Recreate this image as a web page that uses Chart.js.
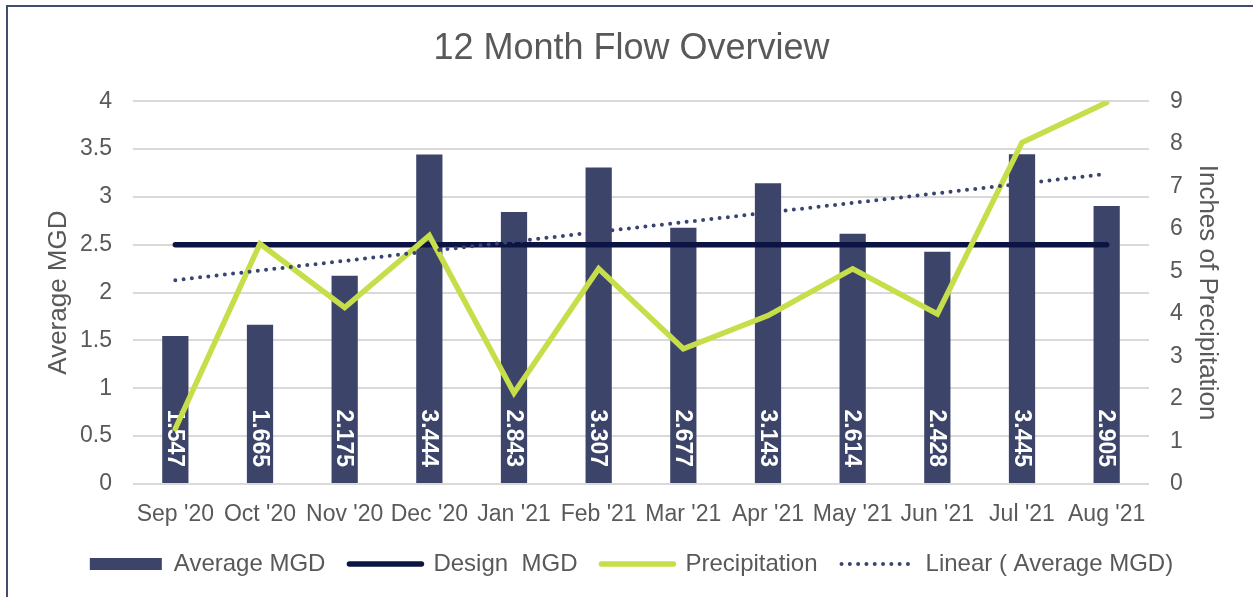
<!DOCTYPE html>
<html>
<head>
<meta charset="utf-8">
<script src="https://cdn.jsdelivr.net/npm/chart.js@4"></script>
<style>
  body { margin: 0; overflow: hidden; background: #fff; }
  #frame { position: absolute; left: 6px; top: 5px; width: 1300px; height: 700px; border: 2px solid #424d6d; }
  #flow { position: absolute; left: 0; top: 0; }
</style>
</head>
<body>
<div id="frame"></div>
<canvas id="flow" width="1253" height="597"></canvas>
<script>
Chart.defaults.font.family = '"Liberation Sans", Arial, sans-serif';
Chart.defaults.color = '#595959';

const months = ["Sep '20", "Oct '20", "Nov '20", "Dec '20", "Jan '21", "Feb '21", "Mar '21", "Apr '21", "May '21", "Jun '21", "Jul '21", "Aug '21"];
const avgMgd = [1.547, 1.665, 2.175, 3.444, 2.843, 3.307, 2.677, 3.143, 2.614, 2.428, 3.445, 2.905];
const designMgd = [2.5, 2.5, 2.5, 2.5, 2.5, 2.5, 2.5, 2.5, 2.5, 2.5, 2.5, 2.5];
const precip = [1.30, 5.65, 4.15, 5.84, 2.14, 5.06, 3.18, 3.96, 5.06, 4.00, 8.03, 8.97];
// trendline: only its two ends
const trend = [2.13, null, null, null, null, null, null, null, null, null, null, 3.24];

// values written vertically inside the bars, near the base
const barLabels = {
  id: 'barLabels',
  afterDatasetDraw(chart, args) {
    if (args.index !== 0) return;
    const ctx = chart.ctx;
    ctx.save();
    ctx.fillStyle = '#ffffff';
    ctx.font = 'bold 23px "Liberation Sans", Arial, sans-serif';
    ctx.textAlign = 'right';
    ctx.textBaseline = 'middle';
    args.meta.data.forEach((bar, i) => {
      ctx.save();
      ctx.translate(bar.x, bar.base - 16);
      ctx.rotate(Math.PI / 2);
      ctx.fillText(avgMgd[i].toFixed(3), 0, 1);
      ctx.restore();
    });
    ctx.restore();
  }
};

let ctx = document.getElementById('flow');
const flowChart = new Chart(ctx, {
  type: 'bar',
  data: {
    labels: months,
    datasets: [{
      label: 'Average MGD',
      data: avgMgd,
      backgroundColor: '#3c4569',
      yAxisID: 'y',
      order: 4,
      pointStyle: 'rect',
      categoryPercentage: 1,
      barPercentage: 0.31
    }, {
      type: 'line',
      label: 'Design  MGD',
      data: designMgd,
      borderColor: '#0b1442',
      backgroundColor: '#0b1442',
      borderWidth: 5.5,
      borderCapStyle: 'round',
      pointRadius: 0,
      pointStyle: 'line',
      yAxisID: 'y',
      order: 3
    }, {
      type: 'line',
      label: 'Precipitation',
      data: precip,
      borderColor: '#c5de4a',
      backgroundColor: '#c5de4a',
      borderWidth: 5.5,
      borderCapStyle: 'round',
      borderJoinStyle: 'miter',
      pointRadius: 0,
      pointStyle: 'line',
      yAxisID: 'y1',
      order: 2
    }, {
      type: 'line',
      label: 'Linear ( Average MGD)',
      data: trend,
      spanGaps: true,
      borderColor: '#3a4470',
      backgroundColor: '#3a4470',
      borderWidth: 4,
      borderDash: [0, 8.3],
      borderCapStyle: 'round',
      pointRadius: 0,
      pointStyle: 'line',
      yAxisID: 'y',
      order: 1
    }]
  },
  options: {
    responsive: false,
    animation: false,
    events: [],
    layout: { padding: { left: 30, right: 20, top: 5, bottom: 11 } },
    plugins: {
      title: {
        display: true,
        text: '12 Month Flow Overview',
        color: '#595959',
        font: { size: 36, weight: 'normal' },
        padding: { top: 22, bottom: 31 }
      },
      legend: {
        position: 'bottom',
        labels: {
          color: '#595959',
          font: { size: 24 },
          usePointStyle: true,
          pointStyleWidth: 72,
          boxHeight: 12,
          padding: 24,
          generateLabels(chart) {
            return chart.data.datasets.map((ds, i) => ({
              text: ds.label,
              datasetIndex: i,
              fillStyle: ds.backgroundColor,
              strokeStyle: ds.borderColor || ds.backgroundColor,
              lineWidth: ds.type === 'line' ? ds.borderWidth : 0,
              lineDash: ds.borderDash || [],
              lineCap: ds.borderCapStyle || 'butt',
              pointStyle: ds.pointStyle,
              fontColor: '#595959',
              hidden: false
            }));
          }
        }
      },
      tooltip: { enabled: false }
    },
    scales: {
      x: {
        grid: { display: false },
        border: { display: false },
        ticks: { color: '#595959', font: { size: 23 }, padding: 9, maxRotation: 0, autoSkip: false },
        afterFit(scale) { scale.height = 44; }
      },
      y: {
        position: 'left',
        min: 0,
        max: 4,
        ticks: { stepSize: 0.5, color: '#595959', font: { size: 23 }, padding: 21, callback: v => String(v) },
        grid: { color: '#d9d9d9', lineWidth: 2, drawTicks: false },
        border: { display: false },
        title: { display: true, text: 'Average MGD', color: '#595959', font: { size: 26 }, padding: { top: 13, bottom: 0 } },
        afterFit(scale) { scale.width = 103; }
      },
      y1: {
        position: 'right',
        min: 0,
        max: 9,
        ticks: { stepSize: 1, color: '#595959', font: { size: 23 }, padding: 21 },
        grid: { drawOnChartArea: false, drawTicks: false },
        border: { display: false },
        title: { display: true, text: 'Inches of Precipitation', color: '#595959', font: { size: 26 }, padding: { top: 10, bottom: 0 } },
        afterFit(scale) { scale.width = 84; }
      }
    }
  },
  plugins: [barLabels]
});
</script>
</body>
</html>
